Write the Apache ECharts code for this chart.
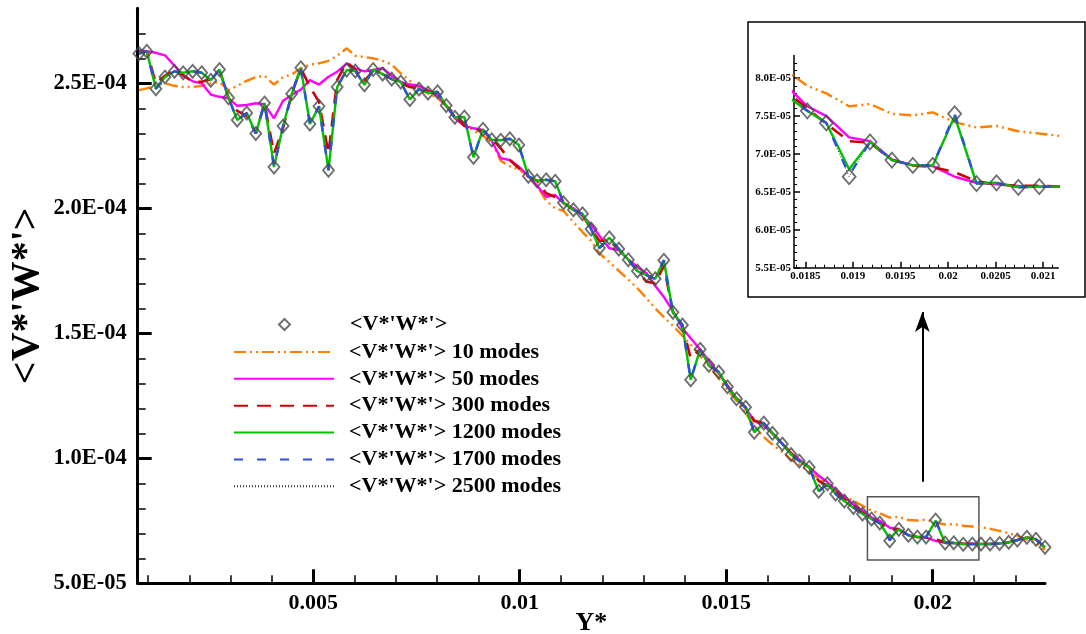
<!DOCTYPE html>
<html><head><meta charset="utf-8">
<script src="https://cdn.jsdelivr.net/npm/echarts@6/dist/echarts.min.js"></script>
<style>html,body{margin:0;padding:0;background:#fff}#c{width:1086px;height:634px}</style>
</head><body><div id="c"></div><script>
// Y* positions of the samples
const yStar = [0.00078,0.00097,0.00119,0.00141,0.00164,0.00185,0.00208,0.0023,0.00252,0.00273,
0.00295,0.00316,0.00339,0.00361,0.00382,0.00405,0.00427,0.00448,0.0047,0.00492,
0.00514,0.00537,0.00558,0.00581,0.00602,0.00624,0.00645,0.00668,0.0069,0.00712,
0.00734,0.00756,0.00778,0.00801,0.00822,0.00843,0.00866,0.00888,0.00911,0.00932,
0.00954,0.00976,0.00998,0.01021,0.01042,0.01064,0.01086,0.01106,0.0113,0.01152,
0.01173,0.01193,0.01217,0.0124,0.01263,0.01285,0.01307,0.01328,0.01349,0.01371,
0.01394,0.01414,0.01437,0.01458,0.01482,0.01503,0.01525,0.01547,0.01568,0.01591,
0.01612,0.01636,0.01657,0.01677,0.01701,0.01724,0.01745,0.01765,0.01786,0.01808,
0.0183,0.01852,0.01872,0.01896,0.01918,0.01941,0.01963,0.01984,0.02007,0.0203,
0.02051,0.02074,0.02096,0.02117,0.02139,0.02162,0.02184,0.02205,0.02228,0.0225,0.02272];
// values in units of 1E-04
const vRef = [2.619,2.628,2.478,2.525,2.548,2.542,2.548,2.542,2.512,2.555,
2.442,2.353,2.381,2.299,2.421,2.165,2.329,2.458,2.562,2.337,
2.408,2.152,2.485,2.553,2.549,2.494,2.555,2.537,2.517,2.505,
2.435,2.477,2.461,2.466,2.411,2.364,2.365,2.204,2.316,2.274,
2.272,2.278,2.253,2.128,2.110,2.114,2.108,2.022,1.994,1.978,
1.917,1.841,1.882,1.837,1.794,1.749,1.733,1.718,1.792,1.584,
1.533,1.314,1.436,1.372,1.345,1.286,1.238,1.204,1.104,1.141,
1.100,1.057,1.015,0.989,0.964,0.868,0.898,0.857,0.829,0.803,
0.777,0.757,0.741,0.670,0.716,0.692,0.685,0.685,0.753,0.661,
0.662,0.656,0.657,0.657,0.657,0.659,0.664,0.673,0.684,0.676,0.644];
const v10 = [2.473,2.48,2.49,2.50,2.49,2.485,2.485,2.49,2.50,2.505,
2.473,2.49,2.51,2.525,2.53,2.495,2.525,2.535,2.56,2.575,
2.58,2.59,2.61,2.64,2.61,2.605,2.6,2.59,2.575,2.54,
2.51,2.48,2.46,2.44,2.41,2.37,2.34,2.31,2.29,2.265,
2.19,2.168,2.155,2.13,2.09,2.03,2.0,1.99,1.945,1.905,
1.87,1.82,1.785,1.75,1.715,1.68,1.64,1.60,1.565,1.53,
1.49,1.455,1.41,1.37,1.32,1.275,1.23,1.18,1.13,1.085,
1.055,1.025,0.995,0.975,0.945,0.92,0.895,0.87,0.85,0.83,
0.81,0.79,0.78,0.763,0.766,0.753,0.751,0.755,0.742,0.735,
0.737,0.73,0.727,0.724,0.718,0.71,0.70,0.69,0.675,0.66,0.635];
const v50 = [2.63,2.628,2.622,2.612,2.57,2.53,2.508,2.5,2.455,2.446,
2.44,2.41,2.413,2.42,2.416,2.36,2.43,2.453,2.475,2.513,
2.495,2.526,2.546,2.58,2.56,2.548,2.553,2.56,2.53,2.506,
2.495,2.49,2.473,2.45,2.41,2.36,2.33,2.32,2.313,2.27,
2.2,2.193,2.166,2.13,2.09,2.046,2.053,2.02,2.0,1.97,
1.935,1.89,1.84,1.833,1.795,1.765,1.74,1.69,1.645,1.59,
1.52,1.48,1.435,1.39,1.34,1.29,1.24,1.2,1.15,1.13,
1.1,1.06,1.02,0.995,0.965,0.93,0.905,0.875,0.845,0.815,
0.79,0.763,0.75,0.722,0.717,0.693,0.685,0.684,0.670,0.662,
0.66,0.658,0.657,0.657,0.657,0.659,0.664,0.673,0.684,0.676,0.644];
const v300 = [2.62,2.628,2.50,2.53,2.555,2.533,2.506,2.506,2.516,2.553,
2.44,2.39,2.37,2.30,2.42,2.219,2.32,2.458,2.56,2.486,
2.426,2.219,2.513,2.584,2.553,2.51,2.55,2.537,2.517,2.5,
2.485,2.48,2.466,2.46,2.41,2.375,2.33,2.313,2.31,2.28,
2.24,2.193,2.16,2.126,2.11,2.06,2.045,2.022,1.993,1.975,
1.915,1.87,1.87,1.837,1.794,1.749,1.706,1.70,1.77,1.584,
1.533,1.40,1.436,1.372,1.345,1.29,1.24,1.204,1.15,1.141,
1.1,1.06,1.02,0.99,0.964,0.91,0.89,0.865,0.835,0.81,
0.782,0.76,0.74,0.717,0.715,0.692,0.685,0.683,0.676,0.664,
0.66,0.658,0.658,0.657,0.657,0.659,0.664,0.673,0.684,0.676,0.644];
const v1200 = [2.619,2.628,2.478,2.525,2.548,2.542,2.548,2.542,2.512,2.555,
2.442,2.353,2.381,2.299,2.421,2.165,2.329,2.458,2.562,2.337,
2.408,2.152,2.485,2.553,2.549,2.494,2.555,2.537,2.517,2.505,
2.435,2.477,2.461,2.466,2.411,2.364,2.365,2.204,2.316,2.274,
2.272,2.278,2.253,2.128,2.110,2.114,2.108,2.022,1.994,1.978,
1.917,1.841,1.882,1.837,1.794,1.749,1.733,1.718,1.792,1.584,
1.533,1.314,1.436,1.372,1.345,1.286,1.238,1.204,1.104,1.141,
1.100,1.057,1.015,0.989,0.964,0.868,0.898,0.857,0.829,0.803,
0.777,0.757,0.741,0.680,0.716,0.692,0.685,0.685,0.750,0.661,
0.662,0.656,0.657,0.657,0.657,0.659,0.664,0.673,0.684,0.676,0.644];
const v1700 = [2.619,2.628,2.478,2.525,2.548,2.542,2.548,2.542,2.512,2.555,
2.442,2.353,2.381,2.299,2.421,2.165,2.329,2.458,2.562,2.337,
2.408,2.152,2.485,2.553,2.549,2.494,2.555,2.537,2.517,2.505,
2.435,2.477,2.461,2.466,2.411,2.364,2.365,2.204,2.316,2.274,
2.272,2.278,2.253,2.128,2.110,2.114,2.108,2.022,1.994,1.978,
1.917,1.841,1.882,1.837,1.794,1.749,1.733,1.718,1.792,1.584,
1.533,1.314,1.436,1.372,1.345,1.286,1.238,1.204,1.104,1.141,
1.100,1.057,1.015,0.989,0.964,0.868,0.898,0.857,0.829,0.803,
0.777,0.757,0.741,0.672,0.716,0.692,0.685,0.685,0.753,0.661,
0.662,0.656,0.657,0.657,0.657,0.659,0.664,0.673,0.684,0.676,0.644];
const v2500 = [2.619,2.628,2.478,2.525,2.548,2.542,2.548,2.542,2.512,2.555,
2.442,2.353,2.381,2.299,2.421,2.165,2.329,2.458,2.562,2.337,
2.408,2.152,2.485,2.553,2.549,2.494,2.555,2.537,2.517,2.505,
2.435,2.477,2.461,2.466,2.411,2.364,2.365,2.204,2.316,2.274,
2.272,2.278,2.253,2.128,2.110,2.114,2.108,2.022,1.994,1.978,
1.917,1.841,1.882,1.837,1.794,1.749,1.733,1.718,1.792,1.584,
1.533,1.314,1.436,1.372,1.345,1.286,1.238,1.204,1.104,1.141,
1.100,1.057,1.015,0.989,0.964,0.868,0.898,0.857,0.829,0.803,
0.777,0.757,0.741,0.670,0.716,0.692,0.685,0.685,0.753,0.661,
0.662,0.656,0.657,0.657,0.657,0.659,0.664,0.673,0.684,0.676,0.644];

const seriesNames = ["<V*'W*'>","<V*'W*'> 10 modes","<V*'W*'> 50 modes","<V*'W*'> 300 modes",
  "<V*'W*'> 1200 modes","<V*'W*'> 1700 modes","<V*'W*'> 2500 modes"];

const xMajorTicks = [0.005,0.01,0.015,0.02];
const xMinorTicks = [0.001,0.002,0.003,0.004,0.006,0.007,0.008,0.009,0.011,0.012,0.013,0.014,0.016,0.017,0.018,0.019,0.021,0.022];
const yMajorTicks = [0.5,1.0,1.5,2.0,2.5];
const yMinorTicks = [0.6,0.7,0.8,0.9,1.1,1.2,1.3,1.4,1.6,1.7,1.8,1.9,2.1,2.2,2.3,2.4,2.6,2.7];
const inXMajor = [0.0185,0.019,0.0195,0.02,0.0205,0.021];
const inXMinor = [0.0184,0.0186,0.0187,0.0188,0.0189,0.0191,0.0192,0.0193,0.0194,0.0196,0.0197,0.0198,0.0199,0.0201,0.0202,0.0203,0.0204,0.0206,0.0207,0.0208,0.0209,0.0211];
const inYMajor = [0.55,0.6,0.65,0.7,0.75,0.8];
const inYMinor = [0.56,0.57,0.58,0.59,0.61,0.62,0.63,0.64,0.66,0.67,0.68,0.69,0.71,0.72,0.73,0.74,0.76,0.77,0.78,0.79,0.81,0.82];

const FONT = "'Liberation Serif','Times New Roman',serif";
function sci(v){
  const s=(v*1e-4).toExponential(1).split('e');
  const n=parseInt(s[1],10);
  return s[0]+'E'+(n<0?'-':'+')+String(Math.abs(n)).padStart(2,'0');
}
const pairs = arr => yStar.map((x,i)=>[x,arr[i]]);

const styles = [
  null,
  {color:'#ff8000', width:2.4, type:[12,4,2,4,2,4]},
  {color:'#ff00ff', width:2.4, type:'solid'},
  {color:'#d00000', width:2.6, type:[14,9]},
  {color:'#00c000', width:2.4, type:'solid'},
  {color:'#2f4fe0', width:2.4, type:[9,14]},
  {color:'#333333', width:1, type:[1,2]}
];
const lineData = [null, v10, v50, v300, v1200, v1700, v2500];
const zOrder = [10,3,4,5,6,7,2];

function makeSeries(inset){
  const out=[];
  const xi = inset?2:0, yi = inset?2:0;
  out.push({
    type:'scatter', name:seriesNames[0], xAxisIndex:xi, yAxisIndex:yi,
    data:pairs(vRef), symbol:'diamond', symbolSize: inset?[13,15]:[11,13], z:zOrder[0],
    itemStyle:{color:'rgba(0,0,0,0)', borderColor:'#4a4a4a', borderWidth:1.8},
    silent:true, clip:true,
    markArea: inset?undefined:{silent:true, itemStyle:{color:'rgba(0,0,0,0)', borderColor:'#555', borderWidth:1.5},
      data:[[{coord:[0.01842,0.593]},{coord:[0.02112,0.846]}]]},
    markLine: inset?undefined:{silent:true, symbol:['none','arrow'], symbolSize:[11,20],
      lineStyle:{color:'#000', width:2, type:'solid'}, label:{show:false},
      data:[[{coord:[0.01975,0.906]},{coord:[0.01975,1.585]}]]}
  });
  for(let k=1;k<7;k++){
    out.push({type:'line', name:seriesNames[k], xAxisIndex:xi, yAxisIndex:yi,
      data:pairs(lineData[k]), showSymbol:false, symbol:'none', z:zOrder[k],
      itemStyle:{color:styles[k].color},
      lineStyle:Object.assign({}, styles[k]), silent:true, clip:true});
  }
  return out;
}

const labelStyle = {color:'#000', fontFamily:FONT, fontWeight:'bold'};
function axisPair(gridIndex, min, max, major, minor, pos, opt){
  const a = Object.assign({type:'value', gridIndex, min, max, position:pos, splitLine:{show:false},
    axisLine:{show:true, onZero:false, lineStyle:{color:'#000', width:opt.lw}},
    axisTick:{show:true, inside:true, length:opt.majorLen, customValues:major, lineStyle:{color:'#000', width:opt.tw}},
    axisLabel:Object.assign({customValues:major, fontSize:opt.fs, margin:opt.margin}, labelStyle, opt.fmt?{formatter:opt.fmt}:{})
  }, opt.extra||{});
  const b = {type:'value', gridIndex, min, max, position:pos, splitLine:{show:false},
    axisLine:{show:false, onZero:false},
    axisTick:{show:true, inside:true, length:opt.minorLen, customValues:minor, lineStyle:{color:'#000', width:opt.mw}},
    axisLabel:{show:false, customValues:minor}};
  return [a,b];
}

const chart = echarts.init(document.getElementById('c'), null, {renderer:'canvas'});
const xs = [].concat(
  axisPair(0,0.00075,0.02272,xMajorTicks,xMinorTicks,'bottom',{lw:3,tw:3,mw:1.5,majorLen:14,minorLen:8,fs:22,margin:9,
    extra:{name:'Y*', nameLocation:'middle', nameGap:27, nameMoveOverlap:false, nameTextStyle:{fontFamily:FONT,fontWeight:'bold',fontSize:26,color:'#000'}}}),
  axisPair(1,0.01838,0.02116,inXMajor,inXMinor,'bottom',{lw:1.5,tw:1.5,mw:1,majorLen:6,minorLen:3,fs:11,margin:3})
);
const ys = [].concat(
  axisPair(0,0.5,2.8,yMajorTicks,yMinorTicks,'left',{lw:3,tw:3,mw:1.5,majorLen:14,minorLen:8,fs:22.5,margin:11,fmt:sci,
    extra:{name:"<V*'W*'>", nameLocation:'middle', nameRotate:90, nameGap:90, nameMoveOverlap:false, nameTextStyle:{fontFamily:FONT,fontWeight:'bold',fontSize:40,color:'#000'}}}),
  axisPair(1,0.55,0.83,inYMajor,inYMinor,'left',{lw:1.5,tw:1.5,mw:1,majorLen:6,minorLen:3,fs:11,margin:3,fmt:sci})
);

chart.setOption({
  animation:false,
  backgroundColor:'#fff',
  grid:[
    {left:137.7, top:8.3, width:907.3, height:575, outerBoundsMode:'none', containLabel:false},
    {left:794, top:55.5, width:264.3, height:212.2, outerBoundsMode:'none', containLabel:false}
  ],
  xAxis: xs,
  yAxis: ys,
  legend:[
    {data:[seriesNames[0]], left:278, top:313.5, padding:0, orient:'vertical', itemWidth:11, itemHeight:11, selectedMode:false,
     textStyle:{fontFamily:FONT, fontWeight:'bold', fontSize:22, color:'#000', lineHeight:22, padding:[0,0,0,55]}},
    {data:seriesNames.slice(1), left:233, top:341, padding:0, orient:'vertical', itemWidth:100, itemHeight:14, itemGap:4.85, selectedMode:false,
     itemStyle:{color:'rgba(0,0,0,0)', borderWidth:0, opacity:0},
     textStyle:{fontFamily:FONT, fontWeight:'bold', fontSize:22, color:'#000', lineHeight:22, padding:[0,0,0,10]}}
  ],
  graphic:[
    {type:'rect', shape:{x:748, y:22, width:337, height:275}, style:{fill:'none', stroke:'#000', lineWidth:1.5}, z:1, silent:true}
  ],
  series: makeSeries(false).concat(makeSeries(true))
});
</script></body></html>
